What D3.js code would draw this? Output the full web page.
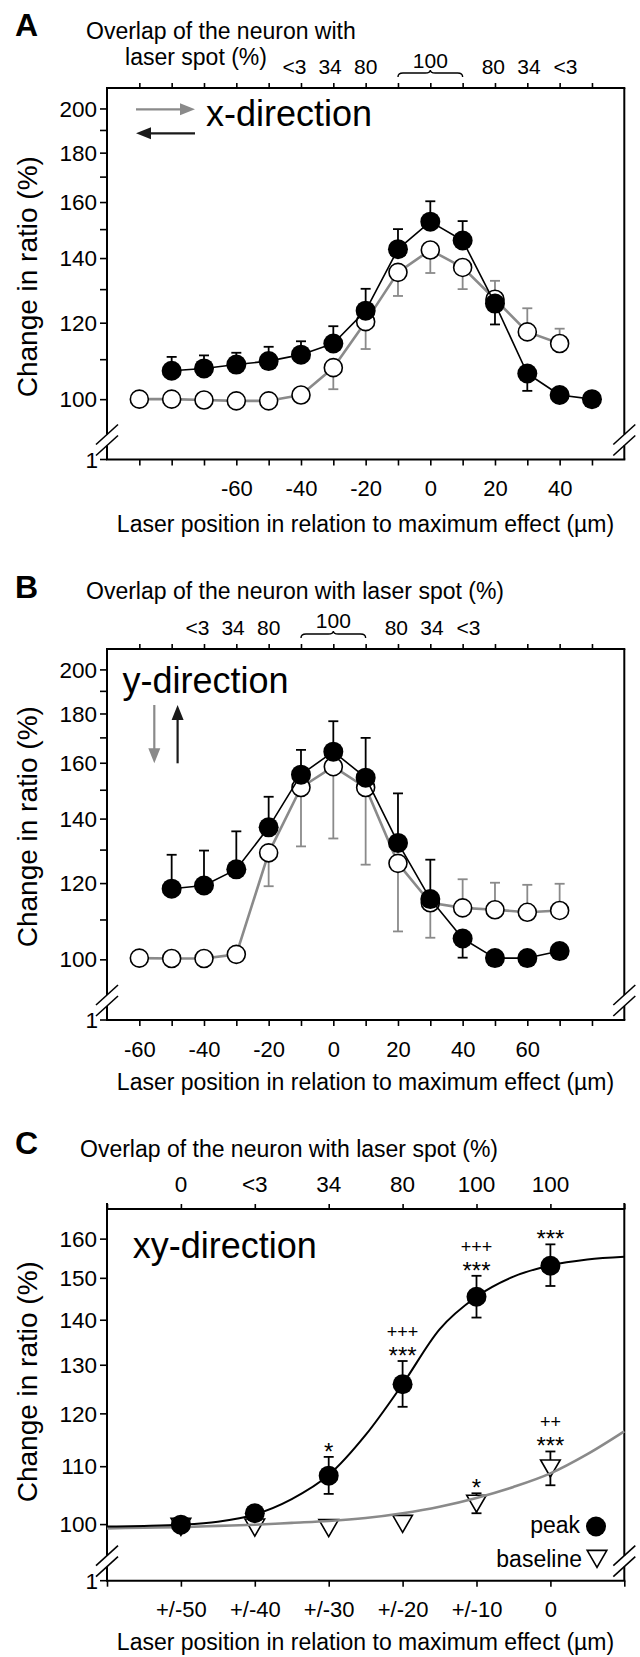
<!DOCTYPE html>
<html><head><meta charset="utf-8">
<script src="https://cdn.jsdelivr.net/npm/d3@7/dist/d3.min.js"></script>
<style>
body{margin:0;background:#fff}
svg{display:block}
text{font-family:"Liberation Sans",Arial,Helvetica,sans-serif;fill:#000}
</style>
</head><body>
<svg id="c" width="640" height="1657"></svg>
<script>
// ================= DATA =================
// Panel A (x-direction)
const ticksA = [-90,-80,-70,-60,-50,-40,-30,-20,-10,0,10,20,30,40,50];
const tickLabelsA = [-60,-40,-20,0,20,40];
const openXA = [-90,-80,-70,-60,-50,-40,-30,-20,-10,0,10,20,30,40];
const openA = [100,100,99.8,99.6,99.6,101,107.8,120.3,135.3,142.7,136.9,126.9,117.4,114.2];
const openErrA = [null,null,null,null,null,null,102.4,112.7,127.9,135.1,130,132.6,124.2,118.3];
const fillXA = [-80,-70,-60,-50,-40,-30,-20,-10,0,10,20,30,40,50];
const fillA = [107.0,107.6,108.6,109.5,111.2,114.2,123.5,143.0,152.7,146.0,125.6,106.3,101,100];
const fillErrA = [110.6,111,111.7,113.3,114.8,119,130.1,150,160.3,152.9,119.5,102.0,null,null];

// Panel B (y-direction)
const ticksB = [-60,-50,-40,-30,-20,-10,0,10,20,30,40,50,60,70,80];
const tickLabelsB = [-60,-40,-20,0,20,40,60];
const openXB = [-60,-50,-40,-30,-20,-10,0,10,20,30,40,50,60,70];
const openB = [100.3,100.2,100.2,101.2,129,150.8,158.5,150.8,125.8,114.5,113.1,112.6,111.9,112.4];
const openErrB = [null,null,null,null,119.1,131,133.5,125.4,106.9,105.3,121.1,120.1,119.5,119.8];
const fillXB = [-50,-40,-30,-20,-10,0,10,20,30,40,50,60,70];
const fillB = [118.4,119.3,124.0,137.1,155.5,164.3,154.4,132.1,115.5,105.1,100.3,100.3,102.0];
const fillErrB = [128.4,129.7,135.8,147.5,165,176.7,169.8,148.7,126.9,100.4,null,null,null];

// overlap labels (A and B)
const overlapPos = [-42,-31,-20,19.5,30.5,41.8];
const overlapText = ["<3","34","80","80","34","<3"];
const bracketRange = [-10,10];

const yTicksAB = [100,110,120,130,140,150,160,170,180,190,200];
const yLabelsAB = [100,120,140,160,180,200];

// Panel C (xy-direction)
const ticksC = [-60,-50,-40,-30,-20,-10,0,10];
const catsC = [-50,-40,-30,-20,-10,0];
const catLabelsC = ["+/-50","+/-40","+/-30","+/-20","+/-10","0"];
const overlapC = ["0","<3","34","80","100","100"];
const peakC = [99.9,101.8,108.3,125.9,145.4,153.0];
const peakHiC = [null,null,111.7,130.8,150.5,158.5];
const peakLoC = [null,null,105.1,121.3,140.5,148.0];
const baseC = [100.0,99.9,99.8,100.5,103.9,110.1];
const baseHiC = [null,null,null,null,105.2,112.7];
const baseLoC = [null,null,null,null,101.8,106.6];
const starsPeak = ["","","*","***","***","***"];
const plusPeak = ["","","","+++","+++",""];
const starsBase = ["","","","","*","***"];
const plusBase = ["","","","","","++"];
const fitX = [-60,-55,-50,-45,-40,-35,-30,-25,-20,-15,-10,-5,0,5,10];
const peakFit = [99.6,99.7,99.9,100.4,101.6,104.2,108.4,115.8,125.9,137.8,145.4,150.3,153.1,154.6,155.3];
const baseFit = [99.3,99.4,99.5,99.7,99.9,100.2,100.5,101.0,101.8,102.9,104.4,106.3,108.7,112.2,116.5];
const yTicksC = [100,110,120,130,140,150,160];

// ================= LAYOUT =================
const svg = d3.select("#c");
const L = 107, R = 624.3;
const GRAY = "#8a8a8a";
const A = {top:88, bottom:459.5};
const B = {top:649, bottom:1020};
const C = {top:1209, bottom:1580.7};

const xA = d3.scaleLinear().domain([-100,60]).range([L,R]);
const xB = d3.scaleLinear().domain([-70,90]).range([L,R]);
const xC = d3.scaleLinear().domain([-60,10]).range([L,R]);
const yA = d3.scaleLog().domain([86.6,210]).range([A.bottom,A.top]);
const yB = d3.scaleLog().domain([86.5,210]).range([B.bottom,B.top]);
const yC = d3.scaleLog().domain([91.1,168]).range([C.bottom,C.top]);

function txt(x,y,s,size,anchor,extra){
  const t = svg.append("text").attr("x",x).attr("y",y).text(s)
    .attr("font-size",size).attr("text-anchor",anchor||"start");
  if(extra) extra(t);
  return t;
}
function line(x1,y1,x2,y2,color,w){
  return svg.append("line").attr("x1",x1).attr("y1",y1).attr("x2",x2).attr("y2",y2)
    .attr("stroke",color||"#000").attr("stroke-width",w||1.8);
}

function frame(P, x, y, topTicks, botTicks, botLabels, fmt, yTicks, yLabels, tickSizeTop){
  const BR1 = 25, BR2 = 14;
  line(L-1,P.top,R+1,P.top,"#000",2);
  line(L-1,P.bottom,R+1,P.bottom,"#000",2);
  [L,R].forEach(xx=>{
    line(xx,P.top-(tickSizeTop||0),xx,P.bottom-BR1,"#000",2);
    line(xx,P.bottom-BR2,xx,P.bottom,"#000",2);
    [BR1,BR2].forEach(o=>line(xx-11,P.bottom-o+10,xx+11,P.bottom-o-10,"#000",1.6));
  });
  const ta = svg.append("g").attr("transform",`translate(0,${P.top})`)
    .call(d3.axisTop(x).tickValues(topTicks).tickSize(5).tickFormat(""));
  ta.select(".domain").remove();
  ta.selectAll("line").attr("stroke-width",1.6);
  ta.selectAll("text").remove();
  const ba = svg.append("g").attr("transform",`translate(0,${P.bottom})`)
    .call(d3.axisBottom(x).tickValues(botTicks).tickSize(6)
      .tickFormat(d=>{const i=botLabels.indexOf(d); return i<0?"":fmt(d,i);}));
  ba.select(".domain").remove();
  ba.selectAll("line").attr("stroke-width",1.6);
  ba.selectAll("text").attr("dy",null).attr("y",36.5).attr("font-size",22)
    .attr("font-family",null).attr("fill","#000");
  const la = svg.append("g").attr("transform",`translate(${L},0)`)
    .call(d3.axisLeft(y).tickValues(yTicks).tickSize(7)
      .tickFormat(d=>yLabels.includes(d)?d:""));
  la.select(".domain").remove();
  la.selectAll("line").attr("stroke-width",1.6);
  la.selectAll("text").attr("font-size",22.5).attr("font-family",null).attr("fill","#000").attr("dy","0.34em");
  line(L-7,P.bottom,L,P.bottom,"#000",1.6);
  txt(L-9,P.bottom+8,"1",22.5,"end");
}

function bracket(x, x1, x2, yb){
  const a = x(x1), b = x(x2), m = (a+b)/2, ym = yb-4;
  svg.append("path")
    .attr("d",`M${a},${yb} Q${a},${ym} ${a+5},${ym} L${m-5},${ym} Q${m},${ym} ${m},${ym-3} Q${m},${ym} ${m+5},${ym} L${b-5},${ym} Q${b},${ym} ${b},${yb}`)
    .attr("fill","none").attr("stroke","#000").attr("stroke-width",1.4);
}

function series(x, y, xs, vs, errs, o){
  const g = svg.append("g");
  g.append("path").datum(xs.map((d,i)=>[d,vs[i]]))
    .attr("d",d3.line().x(d=>x(d[0])).y(d=>y(d[1])))
    .attr("fill","none").attr("stroke",o.line).attr("stroke-width",o.lw).attr("stroke-linejoin","round");
  xs.forEach((d,i)=>{
    if(errs[i]==null) return;
    const cx = x(d), ye = y(errs[i]);
    g.append("line").attr("x1",cx).attr("x2",cx).attr("y1",y(vs[i])).attr("y2",ye)
      .attr("stroke",o.err).attr("stroke-width",1.8);
    g.append("line").attr("x1",cx-5).attr("x2",cx+5).attr("y1",ye).attr("y2",ye)
      .attr("stroke",o.err).attr("stroke-width",1.8);
  });
  g.selectAll("circle").data(xs).join("circle")
    .attr("cx",d=>x(d)).attr("cy",(d,i)=>y(vs[i])).attr("r",o.r)
    .attr("fill",o.fill).attr("stroke","#000").attr("stroke-width",o.sw);
}

function arrow(x1,y1,x2,y2,color){
  const ang = Math.atan2(y2-y1,x2-x1), len = 15, hw = 6;
  const bx = x2-len*Math.cos(ang), by = y2-len*Math.sin(ang);
  line(x1,y1,bx+2*Math.cos(ang),by+2*Math.sin(ang),color,2.2);
  const px = -Math.sin(ang)*hw, py = Math.cos(ang)*hw;
  svg.append("path").attr("d",`M${x2},${y2} L${bx+px},${by+py} L${bx-px},${by-py} Z`).attr("fill",color);
}

function yTitle(cy){
  svg.append("text").attr("transform",`translate(37,${cy}) rotate(-90)`)
    .attr("text-anchor","middle").attr("font-size",28).text("Change in ratio (%)");
}

// ================= PANEL A =================
txt(15,36,"A",32,"start",t=>t.attr("font-weight","bold"));
txt(86,39,"Overlap of the neuron with",23);
txt(196,64.5,"laser spot (%)",23,"middle");
overlapPos.forEach((p,i)=>txt(xA(p),A.top-14,overlapText[i],21,"middle"));
txt(xA(0),A.top-20.5,"100",21,"middle");
bracket(xA,bracketRange[0],bracketRange[1],A.top-11);
frame(A,xA,yA,ticksA,ticksA,tickLabelsA,d=>d,yTicksAB,yLabelsAB);
yTitle(276.7);
txt(365.5,532,"Laser position in relation to maximum effect (µm)",23,"middle");
arrow(136,109.3,195,109.3,GRAY);
arrow(195,133.3,136,133.3,"#1a1a1a");
txt(206,126,"x-direction",36);
series(xA,yA,openXA,openA,openErrA,{line:GRAY,lw:2.6,err:GRAY,fill:"#fff",r:9,sw:1.6});
series(xA,yA,fillXA,fillA,fillErrA,{line:"#000",lw:1.6,err:"#000",fill:"#000",r:10,sw:0});

// ================= PANEL B =================
txt(15,597.5,"B",32,"start",t=>t.attr("font-weight","bold"));
txt(86,599,"Overlap of the neuron with laser spot (%)",23);
overlapPos.forEach((p,i)=>txt(xB(p),B.top-14,overlapText[i],21,"middle"));
txt(xB(0),B.top-21.5,"100",21,"middle");
bracket(xB,bracketRange[0],bracketRange[1],B.top-11);
frame(B,xB,yB,ticksB,ticksB,tickLabelsB,d=>d,yTicksAB,yLabelsAB);
yTitle(826.7);
txt(365.5,1090,"Laser position in relation to maximum effect (µm)",23,"middle");
txt(122.4,692.7,"y-direction",36);
arrow(154.3,705,154.3,763.3,GRAY);
arrow(177.6,763.3,177.6,705,"#1a1a1a");
series(xB,yB,openXB,openB,openErrB,{line:GRAY,lw:2.6,err:GRAY,fill:"#fff",r:9,sw:1.6});
series(xB,yB,fillXB,fillB,fillErrB,{line:"#000",lw:1.6,err:"#000",fill:"#000",r:10,sw:0});

// ================= PANEL C =================
txt(15,1153.5,"C",32,"start",t=>t.attr("font-weight","bold"));
txt(80,1157,"Overlap of the neuron with laser spot (%)",23);
catsC.forEach((c,i)=>txt(xC(c),C.top-17.5,overlapC[i],22.5,"middle"));
frame(C,xC,yC,ticksC,ticksC,catsC,(d,i)=>catLabelsC[i],yTicksC,yTicksC,6);
yTitle(1381.7);
txt(365.5,1650,"Laser position in relation to maximum effect (µm)",23,"middle");
txt(132.7,1258,"xy-direction",36);

function errC(vals,his,los){
  catsC.forEach((c,i)=>{
    if(his[i]==null) return;
    const cx = xC(c);
    line(cx,yC(los[i]),cx,yC(his[i]),"#000",1.8);
    [his[i],los[i]].forEach(v=>line(cx-5,yC(v),cx+5,yC(v),"#000",1.8));
  });
}
errC(baseC,baseHiC,baseLoC);
errC(peakC,peakHiC,peakLoC);
const tri = d3.symbol().type(d3.symbolTriangle).size(167);
svg.append("g").selectAll("path").data(catsC).join("path")
  .attr("d",tri).attr("transform",(d,i)=>`translate(${xC(d)},${yC(baseC[i])}) rotate(180)`)
  .attr("fill","#fff").attr("stroke","#000").attr("stroke-width",1.6);
const fitLine = d3.line().x(d=>xC(d[0])).y(d=>yC(d[1])).curve(d3.curveMonotoneX);
svg.append("path").datum(fitX.map((d,i)=>[d,baseFit[i]])).attr("d",fitLine)
  .attr("fill","none").attr("stroke",GRAY).attr("stroke-width",2.6);
svg.append("path").datum(fitX.map((d,i)=>[d,peakFit[i]])).attr("d",fitLine)
  .attr("fill","none").attr("stroke","#000").attr("stroke-width",2);
svg.append("g").selectAll("circle").data(catsC).join("circle")
  .attr("cx",d=>xC(d)).attr("cy",(d,i)=>yC(peakC[i])).attr("r",10).attr("fill","#000");

// significance marks: "+" line stacked above "*" line
function marks(stars,plus,his,vals){
  catsC.forEach((c,i)=>{
    const top = his[i]!=null ? yC(his[i]) : yC(vals[i])-12;
    const sc = top-10.5;
    if(stars[i]) txt(xC(c),sc+13.5,stars[i],24,"middle");
    if(plus[i]) txt(xC(c),sc-12.5,plus[i],18,"middle");
  });
}
marks(starsPeak,plusPeak,peakHiC,peakC);
marks(starsBase,plusBase,baseHiC,baseC);

txt(580,1533,"peak",23,"end");
svg.append("circle").attr("cx",596).attr("cy",1526.5).attr("r",10).attr("fill","#000");
txt(582,1566.5,"baseline",23,"end");
svg.append("path").attr("d",tri).attr("transform","translate(597,1556) rotate(180)")
  .attr("fill","#fff").attr("stroke","#000").attr("stroke-width",1.6);
</script>
</body></html>
